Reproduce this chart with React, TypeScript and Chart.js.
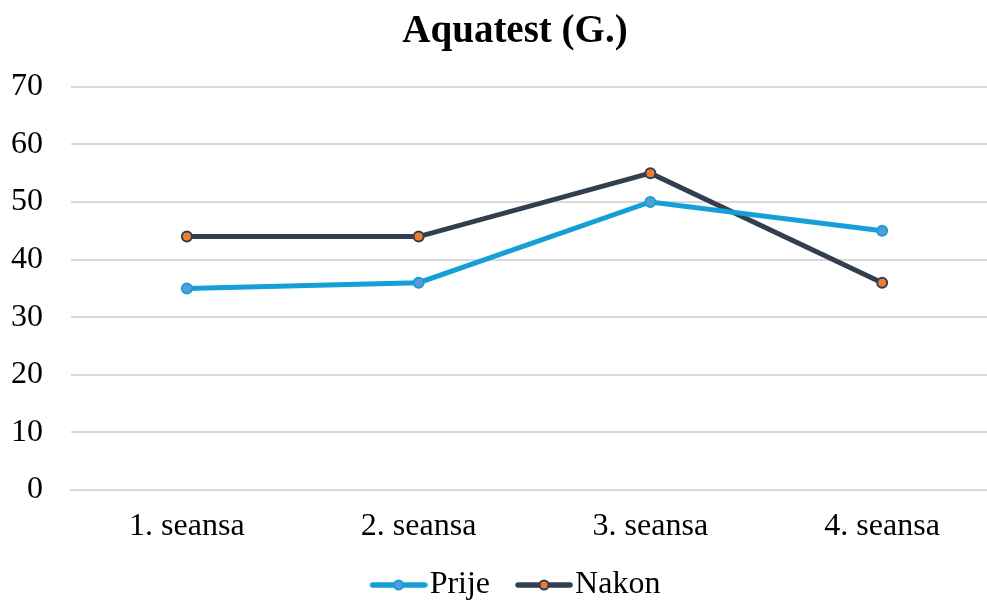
import React, { useEffect, useRef } from "react";
import { Chart, registerables } from "chart.js";

Chart.register(...registerables);

const categories = ["1. seansa", "2. seansa", "3. seansa", "4. seansa"];
const prijeValues = [35, 36, 50, 45];
const nakonValues = [44, 44, 55, 36];
const seriesNames = ["Prije", "Nakon"];
const chartTitle = "Aquatest (G.)";

const PRIJE_LINE = "#14a0d6";
const PRIJE_DOT = "#5b9bd5";
const NAKON_LINE = "#333f50";
const NAKON_DOT = "#ed7d31";
const FONT = "'Liberation Serif', 'Times New Roman', serif";

function legendSymbol(line: string, dot: string): HTMLCanvasElement {
  const c = document.createElement("canvas");
  c.width = 72;
  c.height = 14;
  const ctx = c.getContext("2d")!;
  ctx.strokeStyle = line;
  ctx.lineWidth = 5.5;
  ctx.lineCap = "round";
  ctx.beginPath();
  ctx.moveTo(17, 7);
  ctx.lineTo(69, 7);
  ctx.stroke();
  ctx.beginPath();
  ctx.arc(43, 7, 4.5, 0, Math.PI * 2);
  ctx.fillStyle = dot;
  ctx.fill();
  ctx.lineWidth = 2;
  ctx.strokeStyle = line;
  ctx.stroke();
  return c;
}

export default function App() {
  const ref = useRef<HTMLCanvasElement>(null);

  useEffect(() => {
    if (!ref.current) return;
    const symbols = [legendSymbol(PRIJE_LINE, PRIJE_DOT), legendSymbol(NAKON_LINE, NAKON_DOT)];
    const chart = new Chart(ref.current, {
      type: "line",
      data: {
        labels: categories,
        datasets: [
          {
            label: seriesNames[0],
            data: prijeValues,
            borderColor: PRIJE_LINE,
            backgroundColor: PRIJE_DOT,
            borderWidth: 5,
            pointRadius: 5,
            pointBorderWidth: 2,
            pointBackgroundColor: PRIJE_DOT,
            pointBorderColor: PRIJE_LINE,
            tension: 0,
          },
          {
            label: seriesNames[1],
            data: nakonValues,
            borderColor: NAKON_LINE,
            backgroundColor: NAKON_DOT,
            borderWidth: 5,
            pointRadius: 5,
            pointBorderWidth: 2,
            pointBackgroundColor: NAKON_DOT,
            pointBorderColor: NAKON_LINE,
            tension: 0,
          },
        ],
      },
      options: {
        responsive: false,
        animation: false,
        layout: { padding: { left: 0, right: 0, top: 0, bottom: -10 } },
        plugins: {
          title: {
            display: true,
            text: chartTitle,
            color: "#000",
            font: { family: FONT, size: 39, weight: "bold" },
            padding: { top: 9, bottom: 31 },
          },
          legend: {
            position: "bottom",
            labels: {
              usePointStyle: true,
              pointStyleWidth: 44,
              boxHeight: 14,
              padding: 25,
              color: "#000",
              font: { family: FONT, size: 32 },
              generateLabels: (chart: any) =>
                chart.data.datasets.map((ds: any, i: number) => ({
                  text: ds.label,
                  pointStyle: symbols[i],
                  fillStyle: ds.backgroundColor,
                  strokeStyle: ds.borderColor,
                  lineWidth: 0,
                  hidden: false,
                  datasetIndex: i,
                })),
            },
          },
          tooltip: { enabled: false },
        },
        scales: {
          x: {
            offset: true,
            grid: { display: false, drawTicks: false },
            border: { display: true, color: "#d9d9d9", width: 2 },
            ticks: { color: "#000", font: { family: FONT, size: 32 }, padding: 17 },
            afterFit: (s: any) => {
              s.height = 54;
            },
          },
          y: {
            min: 0,
            max: 70,
            ticks: { stepSize: 10, color: "#000", font: { family: FONT, size: 32 }, padding: 28 },
            grid: { color: "#d9d9d9", lineWidth: 2, drawTicks: false },
            border: { display: false },
            afterFit: (s: any) => {
              s.width = 71;
            },
          },
          yRight: {
            position: "right",
            display: true,
            min: 0,
            max: 70,
            ticks: { display: false },
            grid: { display: false, drawTicks: false },
            border: { display: false },
            afterFit: (s: any) => {
              s.width = 32;
            },
          },
        },
      },
    });
    return () => chart.destroy();
  }, []);

  return (
    <div style={{ position: "absolute", left: 0, top: 0, width: 987, height: 601, overflow: "hidden", background: "#fff" }}>
      <canvas ref={ref} width={1030} height={601} style={{ width: 1030, height: 601, display: "block" }} />
    </div>
  );
}
